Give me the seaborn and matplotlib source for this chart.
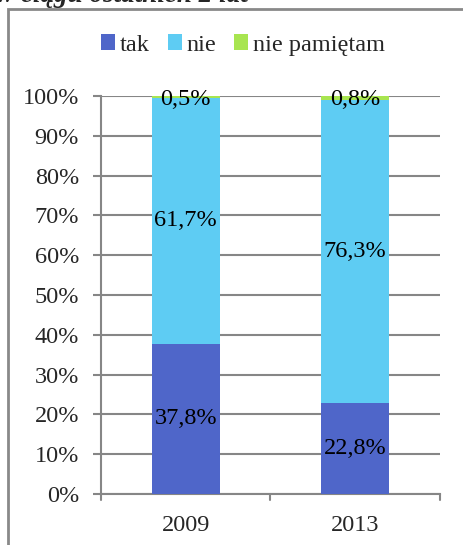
import matplotlib
matplotlib.use("Agg")
import matplotlib.pyplot as plt
from matplotlib.patches import Rectangle, Patch
import seaborn as sns
import pandas as pd
import numpy as np

years = ["2009", "2013"]
tak = [37.8, 22.8]
nie = [61.7, 76.3]
nie_pamietam = [0.5, 0.8]
series_names = ["tak", "nie", "nie pamiętam"]
colors = ["#4F66C9", "#5ECCF3", "#A8E550"]
yticks = [0, 10, 20, 30, 40, 50, 60, 70, 80, 90, 100]

sns.set_theme(style="white")
plt.rcParams["font.family"] = ["Liberation Serif", "DejaVu Serif"]

FS = 17.5
W, H = 464, 545
fig = plt.figure(figsize=(W / 100, H / 100), dpi=100)
ax = fig.add_axes([101 / W, 1 - 494 / H, (440 - 101) / W, (494 - 96) / H])

df = pd.DataFrame({"rok": years, "tak": tak, "nie": nie, "nie pamiętam": nie_pamietam})
values = [tak, nie, nie_pamietam]
cum = np.cumsum(np.array(values), axis=0)

# draw cumulative heights from top segment down so each layer covers the previous
for i in reversed(range(len(series_names))):
    sns.barplot(x=df["rok"], y=cum[i], color=colors[i], width=0.4,
                ax=ax, zorder=3, linewidth=0, saturation=1)

# data labels centered within each segment
for i in range(len(series_names)):
    for j, yr in enumerate(years):
        bottom = cum[i - 1][j] if i > 0 else 0
        center = bottom + values[i][j] / 2
        if i == 2:
            center = 99.0
        ax.text(j, center, f"{values[i][j]:.1f}%".replace(".", ","),
                ha="center", va="center", fontsize=FS, color="black", zorder=5)

ax.set_xlim(-0.5, 1.5)
ax.set_ylim(0, 100)
ax.set_yticks(yticks)
ax.set_yticklabels([f"{t}%" for t in yticks], fontsize=FS)
ax.set_xticks([0, 1])
ax.set_xticklabels(years, fontsize=FS)
ax.set_xlabel("")
ax.set_ylabel("")

ax.grid(axis="y", color="#868686", linewidth=1.5, zorder=0)
ax.set_axisbelow(True)
for s in ["top", "right"]:
    ax.spines[s].set_visible(False)
for s in ["left", "bottom"]:
    ax.spines[s].set_color("#868686")
    ax.spines[s].set_linewidth(1.5)

ax.tick_params(axis="y", length=5.8, width=1.5, color="#868686", pad=10, left=True)
ax.tick_params(axis="x", length=0, pad=15)
# category boundary ticks on the x axis
for xb in [-0.5, 0.5, 1.5]:
    ax.plot([xb, xb], [0, -1.5], color="#868686", linewidth=1.5, clip_on=False, zorder=4)

handles = [Patch(facecolor=c, edgecolor="none") for c in colors]
fig.legend(handles, series_names, loc="center", bbox_to_anchor=(243 / W, 1 - 45 / H),
           ncol=3, frameon=False, fontsize=FS, handlelength=0.58, handleheight=0.58,
           handletextpad=0.18, columnspacing=0.75, borderpad=0, borderaxespad=0)

# outer chart frame
fig.patches.append(Rectangle((8 / W, -0.1), 1.2, 1 - 9 / H + 0.1, transform=fig.transFigure,
                             fill=False, edgecolor="#898989", linewidth=2))

fig.text(-4 / W, 1 - 2 / H, "w ciągu ostatnich 2 lat", fontsize=19.5, fontweight="bold",
         fontstyle="italic", ha="left", va="baseline")

fig.savefig("out.png", dpi=100)
